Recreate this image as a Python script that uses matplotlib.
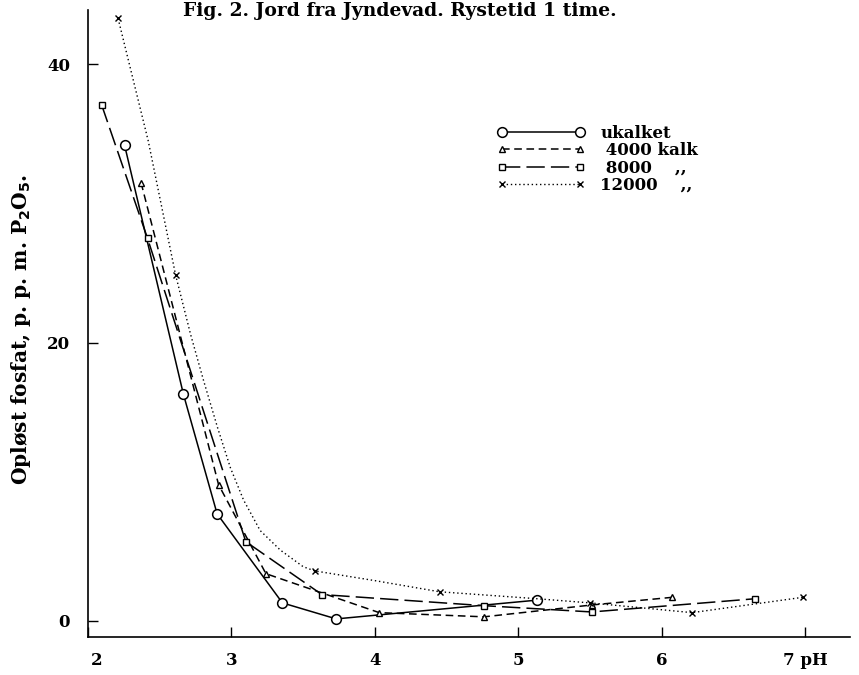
import matplotlib
matplotlib.use('Agg')
import matplotlib.pyplot as plt
import matplotlib.transforms as mtransforms
from matplotlib.lines import Line2D

# values (pH, p.p.m. P2O5)
ph_ukalket = [2.255, 2.665, 2.90, 3.355, 3.73, 5.13]
p_ukalket = [34.2, 16.3, 7.7, 1.3, 0.15, 1.5]

ph_4000 = [2.37, 2.91, 3.24, 4.03, 4.76, 5.51, 6.07]
p_4000 = [31.5, 9.8, 3.4, 0.6, 0.3, 1.15, 1.7]

ph_8000 = [2.095, 2.415, 3.10, 3.63, 4.76, 5.51, 6.65]
p_8000 = [37.1, 27.5, 5.7, 1.9, 1.1, 0.65, 1.6]

ph_12000 = [2.21, 2.61, 3.58, 4.45, 5.50, 6.21, 6.98]
p_12000 = [43.3, 24.9, 3.6, 2.1, 1.3, 0.6, 1.7]

# the 12000 curve is hand drawn smooth; trace
curve_ph_12000 = [2.21, 2.42, 2.61, 2.715, 2.805, 2.903, 2.993, 3.084, 3.20, 3.34,
                  3.50, 3.58, 4.0, 4.45, 5.13, 5.50, 6.21, 6.98]
curve_p_12000 = [43.3, 34.5, 24.9, 20.6, 17.3, 13.9, 11.0, 8.7, 6.5, 5.1,
                 3.9, 3.6, 2.9, 2.1, 1.6, 1.3, 0.6, 1.7]

xticks = [2, 3, 4, 5, 6, 7]
xticklabels = ['2', '3', '4', '5', '6', '7 pH']
yticks = [0, 20, 40]

labels = ['ukalket', ' 4000 kalk', ' 8000    ,,', '12000    ,,']

plt.rcParams['font.family'] = ['DejaVu Serif']
plt.rcParams['font.weight'] = 'bold'

fig = plt.figure(figsize=(8.59, 6.75), dpi=100)
ax = fig.add_axes([0.1024, 0.0563, 0.8871, 0.9287])

s1 = dict(color='k', lw=1.1, ls='-', marker='o', ms=7, mfc='white', mec='k', mew=1.1)
s2 = dict(color='k', lw=1.1, ls=(0, (5, 3)), marker='^', ms=5, mfc='white', mec='k', mew=1.0)
s3 = dict(color='k', lw=1.1, ls=(0, (12, 4)), marker='s', ms=5, mfc='white', mec='k', mew=1.0)
s4 = dict(color='k', lw=1.0, ls=(0, (1, 2)), marker='x', ms=4.5, mec='k', mew=1.0)

ax.plot(ph_ukalket, p_ukalket, **s1)
ax.plot(ph_4000, p_4000, **s2)
ax.plot(ph_8000, p_8000, **s3)
ax.plot(curve_ph_12000, curve_p_12000, color='k', lw=1.0, ls=(0, (1, 2)))
ax.plot(ph_12000, p_12000, ls='none', marker='x', ms=4.5, mec='k', mew=1.0)

ax.set_xlim(2.0, 7.31)
ax.set_ylim(-1.15, 43.9)

ax.spines['top'].set_visible(False)
ax.spines['right'].set_visible(False)
ax.spines['left'].set_linewidth(1.2)
ax.spines['bottom'].set_linewidth(1.2)

ax.set_xticks(xticks)
ax.set_xticklabels(xticklabels, fontsize=12, fontweight='bold')
ax.set_yticks(yticks)
ax.set_yticklabels([str(v) for v in yticks], fontsize=12, fontweight='bold')
ax.tick_params(axis='both', direction='in', length=7, width=1.0)
ax.tick_params(axis='x', pad=11)
ax.tick_params(axis='y', pad=13)

# first x label sits a bit to the right of the spine in the original
lbl = ax.get_xticklabels()[0]
lbl.set_transform(lbl.get_transform() + mtransforms.ScaledTranslation(9 / 100, 0, fig.dpi_scale_trans))

ax.set_ylabel('Opløst fosfat, p. p. m. P$_\\mathbf{2}$O$_\\mathbf{5}$.', fontsize=14.5,
              fontweight='bold')
ax.yaxis.set_label_coords(-0.072, 0.49)

handles = [Line2D([], [], **s1), Line2D([], [], **s2), Line2D([], [], **s3), Line2D([], [], **s4)]
ax.legend(handles, labels, loc='upper left', bbox_to_anchor=(0.537, 0.817), frameon=False,
          numpoints=2, handlelength=5.3, handletextpad=0.9, borderpad=0, borderaxespad=0,
          labelspacing=0.02, prop={'size': 12, 'weight': 'bold'})

fig.text(0.466, 0.997, 'Fig. 2. Jord fra Jyndevad. Rystetid 1 time.', ha='center',
         va='top', fontsize=13.5)

fig.savefig('out.png', dpi=100)
